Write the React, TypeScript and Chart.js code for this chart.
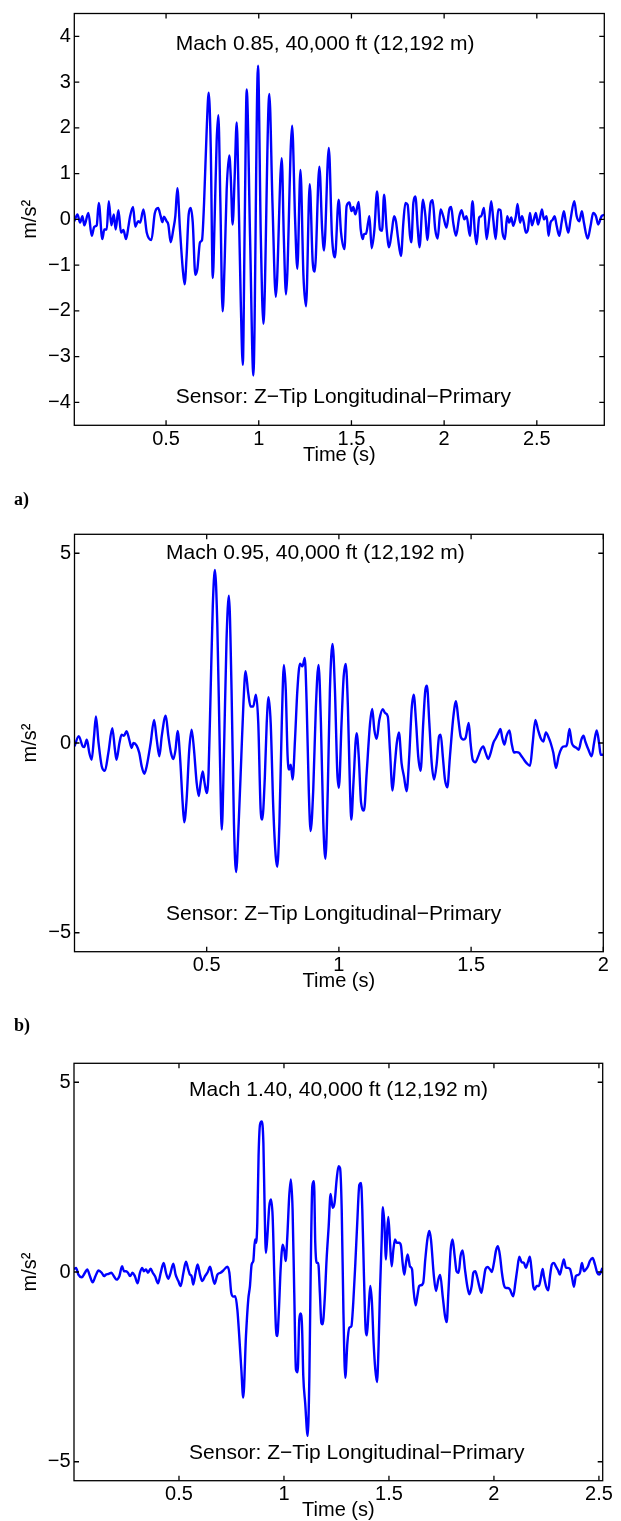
import React, { useEffect, useRef } from "react";
import { Chart, registerables } from "chart.js";

Chart.register(...registerables);
Chart.defaults.font.family = '"Liberation Sans", Arial, Helvetica, sans-serif';

// ---------- Panel a: Mach 0.85 ----------
const A_T = [0.005,0.022,0.036,0.049,0.059,0.081,0.099,0.113,0.126,0.137,0.156,0.167,0.180,0.191,0.205,0.218,0.228,0.243,0.257,0.270,0.284,0.298,0.306,0.322,0.334,0.349,0.360,0.378,0.396,0.421,0.439,0.457,0.471,0.480,0.489,0.503,0.512,0.525,0.539,0.550,0.561,0.575,0.590,0.600,0.611,0.622,0.633,0.644,0.658,0.669,0.683,0.694,0.705,0.719,0.730,0.741,0.752,0.762,0.773,0.782,0.793,0.805,0.816,0.827,0.841,0.849,0.859,0.870,0.881,0.892,0.903,0.914,0.924,0.935,0.953,0.971,0.996,1.011,1.025,1.057,1.074,1.092,1.124,1.135,1.147,1.180,1.196,1.208,1.225,1.241,1.255,1.275,1.291,1.302,1.327,1.342,1.352,1.378,1.395,1.411,1.431,1.444,1.462,1.474,1.489,1.500,1.510,1.521,1.539,1.550,1.561,1.568,1.579,1.590,1.597,1.609,1.624,1.638,1.654,1.665,1.676,1.690,1.703,1.717,1.730,1.740,1.751,1.767,1.780,1.791,1.803,1.816,1.823,1.834,1.845,1.858,1.867,1.886,1.899,1.909,1.927,1.938,1.952,1.965,1.981,1.995,2.013,2.028,2.038,2.049,2.064,2.082,2.094,2.109,2.121,2.139,2.153,2.166,2.175,2.189,2.200,2.215,2.229,2.243,2.254,2.265,2.278,2.292,2.304,2.315,2.328,2.340,2.351,2.362,2.373,2.387,2.396,2.409,2.420,2.430,2.441,2.452,2.463,2.474,2.484,2.495,2.506,2.517,2.528,2.538,2.553,2.563,2.574,2.585,2.596,2.607,2.621,2.634,2.646,2.657,2.670,2.682,2.702,2.715,2.729,2.743,2.754,2.774,2.790,2.804,2.819,2.831,2.849,2.864];
const A_V = [-0.04,0.11,-0.07,0.07,-0.13,0.14,-0.36,-0.16,-0.13,0.36,-0.43,-0.22,-0.22,0.40,-0.13,0.11,-0.22,0.20,-0.29,-0.23,-0.43,-0.13,0.07,0.27,-0.16,-0.04,-0.07,0.22,-0.29,-0.45,0.13,0.25,0.07,-0.06,0.06,-0.04,-0.11,-0.50,-0.22,0.07,0.68,-0.22,-1.08,-1.42,-0.79,0.11,0.25,-0.07,-1.21,-1.08,-0.50,-0.45,0.36,1.94,2.77,1.58,-1.28,0.00,1.72,2.28,0.36,-2.01,-0.93,0.65,1.40,0.93,-0.11,0.93,2.12,0.36,-1.80,-3.18,-0.20,2.84,-0.36,-3.41,3.36,-0.36,-2.28,2.74,0.36,-1.69,1.34,-0.36,-1.64,2.05,0.00,-1.08,1.08,-1.22,-1.90,0.77,-0.93,-1.14,1.15,-0.22,-0.68,1.56,-0.36,-0.83,0.43,-0.29,-0.65,0.29,0.37,0.18,0.27,0.11,0.38,-0.22,-0.43,-0.32,-0.31,-0.07,0.07,-0.63,-0.22,0.61,-0.22,-0.25,0.54,-0.22,-0.61,-0.29,0.07,-0.04,-0.40,-0.80,-0.07,0.36,0.32,-0.36,-0.50,0.36,0.50,-0.22,-0.61,0.43,0.07,-0.45,0.36,0.42,-0.22,-0.42,0.22,0.07,-0.18,0.22,0.27,-0.07,-0.36,0.07,0.20,0.00,0.07,-0.36,0.40,-0.29,-0.54,0.04,0.07,0.25,-0.43,0.00,0.40,0.00,-0.43,0.22,0.20,-0.29,-0.43,0.07,-0.07,0.04,-0.14,0.07,0.34,-0.07,0.07,-0.07,-0.29,-0.22,0.14,-0.13,0.00,0.14,-0.11,0.04,0.22,0.00,0.07,-0.36,-0.07,-0.01,0.07,-0.14,-0.36,-0.06,0.18,-0.07,-0.29,0.00,0.40,0.07,-0.04,0.18,-0.07,-0.42,-0.14,0.14,0.07,-0.11,0.07,0.10];

// ---------- Panel b: Mach 0.95 ----------
const B_T = [0.000,0.016,0.031,0.037,0.046,0.050,0.056,0.065,0.074,0.081,0.091,0.103,0.115,0.128,0.143,0.153,0.159,0.170,0.178,0.187,0.197,0.207,0.216,0.223,0.235,0.245,0.254,0.264,0.273,0.288,0.301,0.311,0.321,0.330,0.345,0.355,0.365,0.374,0.382,0.390,0.399,0.409,0.415,0.424,0.434,0.443,0.452,0.462,0.470,0.477,0.485,0.492,0.500,0.507,0.515,0.523,0.531,0.540,0.550,0.557,0.565,0.575,0.584,0.594,0.603,0.611,0.621,0.631,0.639,0.647,0.657,0.666,0.676,0.686,0.695,0.704,0.710,0.720,0.727,0.734,0.742,0.752,0.761,0.767,0.775,0.784,0.792,0.799,0.806,0.812,0.818,0.825,0.834,0.843,0.853,0.862,0.871,0.878,0.886,0.893,0.903,0.913,0.923,0.932,0.941,0.949,0.958,0.966,0.976,0.985,0.994,1.000,1.010,1.018,1.026,1.034,1.042,1.047,1.055,1.067,1.075,1.084,1.095,1.105,1.118,1.126,1.134,1.143,1.153,1.166,1.175,1.185,1.193,1.203,1.212,1.219,1.227,1.237,1.246,1.256,1.266,1.275,1.283,1.292,1.300,1.309,1.319,1.327,1.333,1.342,1.351,1.360,1.370,1.379,1.385,1.393,1.401,1.410,1.420,1.433,1.443,1.452,1.461,1.471,1.479,1.491,1.498,1.506,1.516,1.527,1.536,1.546,1.555,1.565,1.574,1.584,1.594,1.603,1.611,1.618,1.626,1.634,1.645,1.653,1.662,1.672,1.682,1.691,1.700,1.710,1.723,1.733,1.743,1.753,1.763,1.773,1.783,1.794,1.801,1.811,1.821,1.831,1.843,1.852,1.859,1.864,1.872,1.881,1.889,1.899,1.907,1.917,1.925,1.932,1.944,1.956,1.965,1.975,1.984,1.990,2.000];
const B_V = [-0.09,0.18,-0.09,-0.11,0.09,0.00,-0.26,-0.44,0.18,0.70,0.00,-0.61,-0.73,-0.26,0.39,-0.18,-0.44,0.00,0.22,0.19,0.31,0.09,-0.13,0.00,-0.07,-0.26,-0.61,-0.81,-0.61,0.00,0.61,0.09,-0.35,0.18,0.72,0.18,-0.26,-0.42,-0.18,0.32,-0.35,-1.58,-2.09,-1.49,-0.18,0.35,-0.18,-1.05,-1.40,-1.05,-0.75,-1.05,-1.32,-0.79,1.40,3.60,4.56,3.16,-0.35,-2.28,-0.35,2.72,3.88,1.40,-2.11,-3.40,-2.11,-0.35,1.05,1.89,1.32,0.96,0.96,1.27,0.53,-1.75,-2.02,-0.88,0.53,1.21,0.53,-1.75,-2.98,-3.26,-2.11,0.53,2.06,1.40,-0.35,-0.70,-0.57,-0.96,0.09,1.40,2.09,2.02,2.24,1.05,-1.23,-2.32,-1.23,0.96,2.06,0.53,-2.11,-3.05,-1.23,1.40,2.61,1.40,-0.79,-1.18,0.53,1.75,2.08,0.96,-1.23,-2.02,-1.05,0.26,-0.35,-1.58,-1.78,-0.79,0.53,0.90,0.35,0.11,0.61,0.89,0.79,0.70,-0.18,-1.25,-0.53,0.00,0.28,-0.53,-0.88,-1.27,-0.35,0.88,1.27,0.53,-0.35,-0.73,0.53,1.40,1.51,0.53,-0.53,-0.96,-0.53,0.18,0.22,-0.35,-0.96,-1.17,-0.35,0.70,1.10,0.61,0.16,0.09,0.13,0.53,0.00,-0.44,-0.51,-0.35,-0.18,-0.09,-0.26,-0.42,-0.26,0.00,0.13,0.26,0.37,0.13,-0.04,0.18,0.33,0.00,-0.25,-0.24,-0.26,-0.35,-0.44,-0.53,-0.60,0.00,0.61,0.35,0.13,0.04,0.28,0.13,0.00,-0.26,-0.66,-0.35,-0.13,-0.09,-0.09,0.00,0.37,0.00,-0.09,-0.13,-0.18,0.09,0.19,0.04,-0.18,-0.35,0.00,0.33,0.00,-0.31,-0.31];

// ---------- Panel c: Mach 1.40 ----------
const C_T = [0.000,0.010,0.021,0.037,0.052,0.063,0.076,0.089,0.102,0.117,0.132,0.143,0.152,0.165,0.178,0.190,0.203,0.216,0.229,0.238,0.248,0.257,0.267,0.279,0.290,0.303,0.314,0.325,0.333,0.343,0.352,0.365,0.375,0.386,0.400,0.413,0.427,0.438,0.449,0.460,0.473,0.484,0.497,0.508,0.521,0.533,0.544,0.552,0.560,0.568,0.579,0.589,0.600,0.611,0.624,0.637,0.648,0.659,0.670,0.683,0.698,0.711,0.730,0.740,0.749,0.759,0.768,0.778,0.787,0.797,0.806,0.819,0.830,0.838,0.846,0.854,0.862,0.867,0.873,0.879,0.886,0.894,0.902,0.908,0.914,0.921,0.930,0.938,0.946,0.954,0.962,0.968,0.976,0.984,0.994,1.002,1.008,1.016,1.025,1.033,1.041,1.049,1.057,1.065,1.073,1.079,1.086,1.092,1.101,1.113,1.121,1.127,1.135,1.143,1.149,1.156,1.163,1.171,1.178,1.184,1.194,1.203,1.213,1.222,1.232,1.241,1.251,1.260,1.267,1.275,1.283,1.292,1.302,1.311,1.321,1.330,1.340,1.349,1.359,1.367,1.373,1.381,1.389,1.395,1.403,1.411,1.419,1.427,1.435,1.443,1.451,1.457,1.465,1.471,1.478,1.486,1.492,1.497,1.505,1.513,1.521,1.529,1.537,1.548,1.557,1.565,1.573,1.581,1.589,1.600,1.610,1.617,1.627,1.635,1.644,1.652,1.663,1.673,1.683,1.692,1.700,1.714,1.724,1.735,1.744,1.756,1.767,1.775,1.783,1.794,1.803,1.813,1.822,1.832,1.841,1.851,1.862,1.873,1.883,1.894,1.902,1.911,1.921,1.930,1.940,1.949,1.960,1.970,1.981,1.990,2.000,2.010,2.019,2.029,2.038,2.048,2.057,2.067,2.076,2.086,2.092,2.102,2.111,2.121,2.132,2.143,2.152,2.162,2.171,2.179,2.187,2.195,2.203,2.214,2.222,2.232,2.238,2.248,2.259,2.267,2.276,2.286,2.295,2.305,2.314,2.324,2.333,2.343,2.352,2.362,2.371,2.381,2.390,2.400,2.410,2.419,2.429,2.438,2.448,2.457,2.470,2.481,2.492,2.502,2.511,2.517];
const C_V = [0.07,0.11,-0.07,-0.14,-0.02,0.07,-0.11,-0.27,-0.11,0.04,-0.02,-0.11,-0.07,-0.05,-0.02,-0.11,-0.20,-0.11,0.15,0.02,0.02,-0.02,-0.11,-0.02,-0.11,-0.30,-0.02,0.11,0.02,0.07,-0.02,0.09,-0.02,-0.11,-0.30,-0.02,0.24,-0.02,-0.18,-0.02,0.22,-0.07,-0.24,-0.37,-0.02,0.27,0.07,-0.07,-0.11,-0.33,-0.02,0.20,-0.07,-0.24,-0.11,0.00,0.14,-0.11,-0.31,-0.07,-0.02,0.04,0.14,-0.02,-0.55,-0.65,-0.64,-0.99,-1.69,-2.57,-3.31,-1.69,-0.72,-0.37,0.20,0.29,0.86,0.77,1.30,3.05,3.89,3.97,3.40,1.65,0.50,0.94,1.73,1.91,1.47,-0.11,-1.51,-1.69,-0.99,0.07,0.72,0.55,0.29,0.94,2.00,2.44,1.65,-0.55,-2.57,-2.64,-1.25,-1.09,-1.43,-2.74,-3.45,-4.32,-2.74,-0.11,2.26,2.39,0.77,0.24,0.24,-0.55,-1.34,-1.38,-0.72,0.33,1.21,2.06,1.69,1.82,2.44,2.79,2.74,1.65,-0.99,-2.79,-1.87,-1.47,-1.43,-0.81,0.24,1.30,2.30,2.35,1.65,-0.11,-1.51,-1.67,-0.99,-0.37,-0.81,-1.87,-2.57,-2.90,-1.87,-0.55,0.77,1.71,1.30,0.33,1.12,1.45,0.77,0.15,0.59,0.86,0.77,0.77,0.70,0.24,-0.07,0.24,0.46,0.15,0.07,-0.46,-0.88,-0.64,-0.37,-0.35,-0.29,0.33,0.86,1.08,0.86,-0.11,-0.50,-0.20,-0.08,-0.64,-1.16,-1.32,-0.55,0.59,0.86,0.42,0.02,-0.02,0.42,0.57,0.07,-0.37,-0.59,-0.37,-0.02,0.02,-0.15,-0.37,-0.55,-0.29,0.08,0.13,0.07,0.00,0.24,0.57,0.68,0.42,-0.02,-0.35,-0.42,-0.42,-0.46,-0.59,-0.64,-0.29,0.07,0.40,0.26,0.24,0.11,0.26,0.40,0.07,-0.37,-0.46,-0.37,-0.37,-0.20,0.08,-0.11,-0.37,-0.48,-0.11,0.20,0.24,0.15,0.05,-0.07,0.15,0.33,0.11,0.11,0.08,-0.11,-0.39,-0.11,-0.08,-0.02,0.24,0.02,0.07,0.15,0.29,0.37,0.20,-0.02,-0.07,0.02,0.11];

// ---------- Ticks and texts ----------
const A_XTICKS = [0.5, 1, 1.5, 2, 2.5];
const A_YTICKS = [-4, -3, -2, -1, 0, 1, 2, 3, 4];
const B_XTICKS = [0.5, 1, 1.5, 2];
const B_YTICKS = [-5, 0, 5];
const C_XTICKS = [0.5, 1, 1.5, 2, 2.5];
const C_YTICKS = [-5, 0, 5];

const A_NOTES = ["Mach 0.85, 40,000 ft (12,192 m)", "Sensor: Z\u2212Tip Longitudinal\u2212Primary"];
const B_NOTES = ["Mach 0.95, 40,000 ft (12,192 m)", "Sensor: Z\u2212Tip Longitudinal\u2212Primary"];
const C_NOTES = ["Mach 1.40, 40,000 ft (12,192 m)", "Sensor: Z\u2212Tip Longitudinal\u2212Primary"];

const X_TITLE = "Time (s)";
const Y_TITLE = "m/s\u00B2";

// layout (pixels / data anchors for text)
const PANELS = [
  { top: 0, height: 480, areaTop: 7.5, areaBottom: 425.3, yWidth: 74.3, padRight: 16.7,
    xRange: [0.005, 2.864], yRange: [-4.5, 4.5], t: A_T, v: A_V, xTicks: A_XTICKS, yTicks: A_YTICKS,
    notes: A_NOTES, notePos: [[0.552, 3.83], [0.552, -3.88]] },
  { top: 490, height: 510, areaTop: 44.3, areaBottom: 461.7, yWidth: 74.5, padRight: 17.7,
    xRange: [0, 2], yRange: [-5.5, 5.5], t: B_T, v: B_V, xTicks: B_XTICKS, yTicks: B_YTICKS,
    notes: B_NOTES, notePos: [[0.346, 5.0], [0.346, -4.52]] },
  { top: 1010, height: 511, areaTop: 53.3, areaBottom: 470.7, yWidth: 74, padRight: 18.3,
    xRange: [0, 2.518], yRange: [-5.5, 5.5], t: C_T, v: C_V, xTicks: C_XTICKS, yTicks: C_YTICKS,
    notes: C_NOTES, notePos: [[0.548, 4.78], [0.548, -4.78]] },
];

const TICK_LEN = 5;
const fmt = (v: any) => String(v).replace("-", "\u2212");

function makeConfig(p: any): any {
  const data = p.t.map((x: number, i: number) => ({ x, y: p.v[i] }));
  const xH = p.height - p.areaBottom;
  const deco = {
    id: "deco",
    afterDraw(chart: any) {
      const { ctx, chartArea: a } = chart;
      const xs = chart.scales.x;
      const ys = chart.scales.y;
      ctx.save();
      ctx.strokeStyle = "#000";
      ctx.lineWidth = 1.3;
      ctx.strokeRect(a.left, a.top, a.right - a.left, a.bottom - a.top);
      ctx.beginPath();
      xs.ticks.forEach((tk: any) => {
        const px = xs.getPixelForValue(tk.value);
        ctx.moveTo(px, a.bottom);
        ctx.lineTo(px, a.bottom - TICK_LEN);
        ctx.moveTo(px, a.top);
        ctx.lineTo(px, a.top + TICK_LEN);
      });
      ys.ticks.forEach((tk: any) => {
        const py = ys.getPixelForValue(tk.value);
        ctx.moveTo(a.left, py);
        ctx.lineTo(a.left + TICK_LEN, py);
        ctx.moveTo(a.right, py);
        ctx.lineTo(a.right - TICK_LEN, py);
      });
      ctx.stroke();
      ctx.fillStyle = "#000";
      ctx.font = '21px "Liberation Sans", Arial, sans-serif';
      ctx.textAlign = "left";
      ctx.textBaseline = "middle";
      p.notes.forEach((txt: string, i: number) => {
        ctx.fillText(txt, xs.getPixelForValue(p.notePos[i][0]), ys.getPixelForValue(p.notePos[i][1]));
      });
      ctx.restore();
    },
  };
  return {
    type: "line",
    data: {
      datasets: [
        {
          data,
          borderColor: "#0000ff",
          borderWidth: 2.4,
          pointRadius: 0,
          fill: false,
          cubicInterpolationMode: "monotone",
          tension: 0.4,
        },
      ],
    },
    options: {
      responsive: false,
      animation: false,
      devicePixelRatio: 1,
      layout: { padding: { top: p.areaTop, right: p.padRight, bottom: 0, left: 0 } },
      plugins: { legend: { display: false }, tooltip: { enabled: false } },
      scales: {
        x: {
          type: "linear",
          min: p.xRange[0],
          max: p.xRange[1],
          grid: { display: false, drawTicks: false },
          border: { display: false },
          ticks: { autoSkip: false, maxRotation: 0, padding: 4, color: "#000", font: { size: 20, lineHeight: 1 }, callback: fmt },
          title: { display: true, text: X_TITLE, color: "#000", font: { size: 20, lineHeight: 1 }, padding: { top: 0, bottom: xH - 40 } },
          afterBuildTicks: (s: any) => { s.ticks = p.xTicks.map((value: number) => ({ value })); },
          afterFit: (s: any) => { s.height = xH; },
        },
        y: {
          type: "linear",
          min: p.yRange[0],
          max: p.yRange[1],
          grid: { display: false, drawTicks: false },
          border: { display: false },
          ticks: { autoSkip: false, padding: 3.5, color: "#000", font: { size: 20, lineHeight: 1 }, callback: fmt },
          title: { display: true, text: Y_TITLE, color: "#000", font: { size: 20, lineHeight: 1 }, padding: { top: 20.4, bottom: 0 } },
          afterBuildTicks: (s: any) => { s.ticks = p.yTicks.map((value: number) => ({ value })); },
          afterFit: (s: any) => { s.width = p.yWidth; },
        },
      },
    },
    plugins: [deco],
  };
}

export default function App() {
  const r0 = useRef<HTMLCanvasElement>(null);
  const r1 = useRef<HTMLCanvasElement>(null);
  const r2 = useRef<HTMLCanvasElement>(null);
  const refs = [r0, r1, r2];

  useEffect(() => {
    const charts = PANELS.map((p, i) => new Chart(refs[i].current as HTMLCanvasElement, makeConfig(p)));
    return () => charts.forEach((c) => c.destroy());
  }, []);

  const label: React.CSSProperties = {
    position: "absolute",
    left: 14,
    fontFamily: '"Liberation Serif", "Times New Roman", serif',
    fontWeight: "bold",
    fontSize: 18,
    lineHeight: "20px",
    color: "#000",
  };

  return (
    <div style={{ position: "absolute", left: 0, top: 0, width: 621, height: 1521, background: "#fff", overflow: "hidden" }}>
      {PANELS.map((p, i) => (
        <canvas
          key={i}
          ref={refs[i]}
          width={621}
          height={p.height}
          style={{ position: "absolute", left: 0, top: p.top, width: 621, height: p.height }}
        />
      ))}
      <div style={{ ...label, top: 489 }}>a)</div>
      <div style={{ ...label, top: 1015 }}>b)</div>
    </div>
  );
}
